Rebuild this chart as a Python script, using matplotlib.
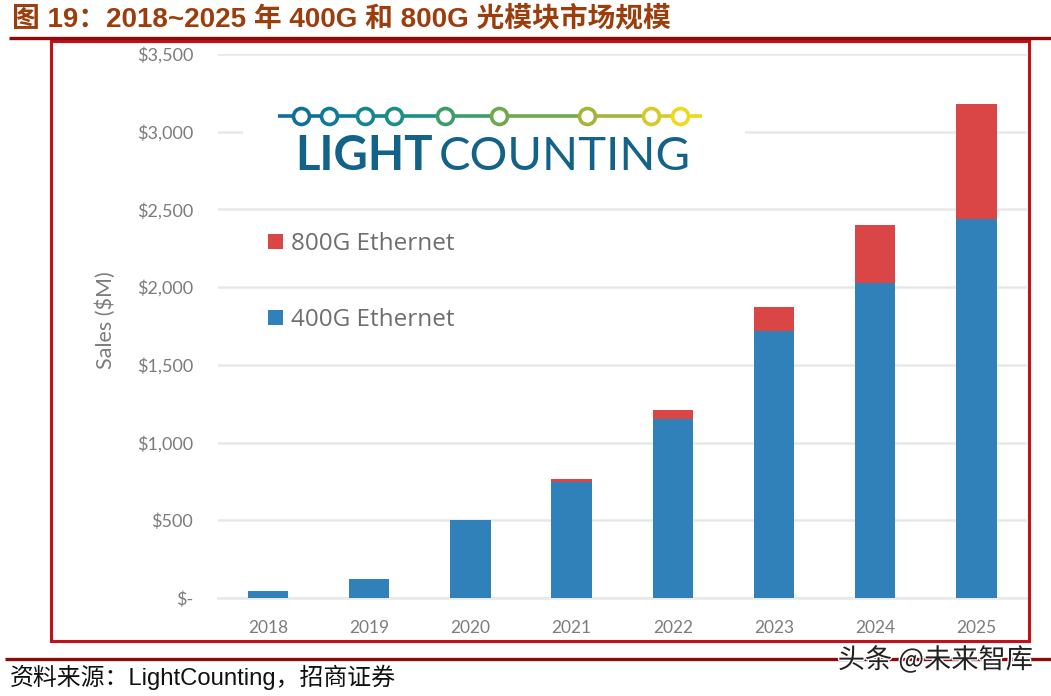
import matplotlib
matplotlib.use("Agg")
import matplotlib.pyplot as plt
import matplotlib.patheffects as pe
from matplotlib.patches import Rectangle
from matplotlib.ticker import FuncFormatter

# values ($M)
years = ["2018", "2019", "2020", "2021", "2022", "2023", "2024", "2025"]
sales_400g = [45, 122, 500, 746, 1152, 1718, 2027, 2438]
sales_800g = [0, 0, 0, 19, 58, 154, 373, 740]
y_ticks = [0, 500, 1000, 1500, 2000, 2500, 3000, 3500]

# logo
logo_nodes = [301, 329, 365, 394, 445, 499, 587, 651, 680]
logo_colors = ["#0e6f98", "#0f7a98", "#14868f", "#1a8f85", "#3e9c68",
               "#6fa94c", "#a3b53c", "#d8c92a", "#f0d81c"]

W, H = 1051, 696
RED = "#c3101b"
DARK_RED = "#8b0a0a"
GREY = "#7c7c7c"
CN_BOLD = ["Liberation Sans", "Noto Sans CJK SC"]

fig = plt.figure(figsize=(W / 100, H / 100), dpi=100, facecolor="white")

# chart area, placed by pixels
ax = fig.add_axes([218 / W, 1 - 598 / H, (1027 - 218) / W, (598 - 54) / H])
x = list(range(len(years)))
ax.bar(x, sales_400g, width=0.4, color="#3080ba", label="400G Ethernet", zorder=3)
ax.bar(x, sales_800g, width=0.4, bottom=sales_400g, color="#da4545",
       label="800G Ethernet", zorder=3)
ax.set_xlim(-0.494, 7.5)
ax.set_ylim(0, 3500)
ax.set_xticks(x, years)
ax.set_yticks(y_ticks)
ax.yaxis.set_major_formatter(FuncFormatter(lambda v, p: "$-" if v == 0 else f"${v:,.0f}"))
ax.tick_params(axis="y", length=0, labelcolor=GREY, labelsize=13, pad=18)
ax.tick_params(axis="x", length=0, labelcolor=GREY, labelsize=12.5, pad=16)
for lab in ax.get_xticklabels() + ax.get_yticklabels():
    lab.set_family("Lato")
ax.grid(axis="y", color="#e8e8e8", lw=1.8, zorder=0)
ax.set_axisbelow(True)
for s in ["top", "right", "left"]:
    ax.spines[s].set_visible(False)
ax.spines["bottom"].set_color("#e8e8e8")
ax.spines["bottom"].set_linewidth(1.8)
ax.set_ylabel("Sales ($M)", color=GREY, fontsize=15.5, family="Lato", labelpad=15,
              y=(598 - 320) / 544)

handles, labels = ax.get_legend_handles_labels()
leg = ax.legend(handles[::-1], labels[::-1], loc="upper left",
                bbox_to_anchor=(50 / 809, (598 - 232) / 544), frameon=False,
                handlelength=0.6, handleheight=0.55, handletextpad=0.36,
                labelspacing=2.14, borderpad=0, borderaxespad=0,
                prop={"family": "Open Sans", "size": 17.5}, labelcolor="#6e6e6e")

# overlay in pixel coordinates for frame, rules, logo and captions
ov = fig.add_axes([0, 0, 1, 1], facecolor="none")
ov.set_xlim(0, W)
ov.set_ylim(H, 0)
ov.axis("off")

ov.add_patch(Rectangle((50.5, 41), 978, 600, fill=False, ec=RED, lw=2.2))
ov.plot([9, W], [38, 38], color=DARK_RED, lw=2.4, solid_capstyle="butt")
ov.plot([5, W], [659, 659], color=DARK_RED, lw=2.4, solid_capstyle="butt")

ov.text(12, 19, "图 19：2018~2025 年 400G 和 800G 光模块市场规模", color="#9c3d0c",
        fontsize=20, fontweight="bold", family=CN_BOLD, va="center", ha="left")
ov.text(10, 677, "资料来源：LightCounting，招商证券", color="#111111", fontsize=17.2,
        family=["Liberation Sans", "Noto Sans CJK SC"], va="center", ha="left")
ov.text(1033, 660, "头条 @未来智库", color="#222222", fontsize=19.6,
        family=["Noto Sans CJK SC", "DejaVu Sans"], va="center", ha="right",
        path_effects=[pe.withStroke(linewidth=2, foreground="white")])

# logo sits on a white patch that hides the gridline
ov.add_patch(Rectangle((243, 100), 502, 75, fc="white", ec="none"))
line_x = [278] + logo_nodes + [702]
line_c = [logo_colors[0]] + logo_colors
for i in range(len(line_x) - 1):
    ov.plot(line_x[i:i + 2], [116, 116], color=line_c[i], lw=2.6, solid_capstyle="butt")
for nx, c in zip(logo_nodes, logo_colors):
    ov.plot([nx], [116], "o", ms=11.5, mfc="white", mec=c, mew=2.6)
ov.text(295, 170, "LIGHT", color="#12628a", fontsize=34, fontweight="bold",
        family="Lato", va="baseline", ha="left")
ov.text(691, 170, "COUNTING", color="#12628a", fontsize=34, family="Lato",
        va="baseline", ha="right")

fig.savefig("out.png", dpi=100)
